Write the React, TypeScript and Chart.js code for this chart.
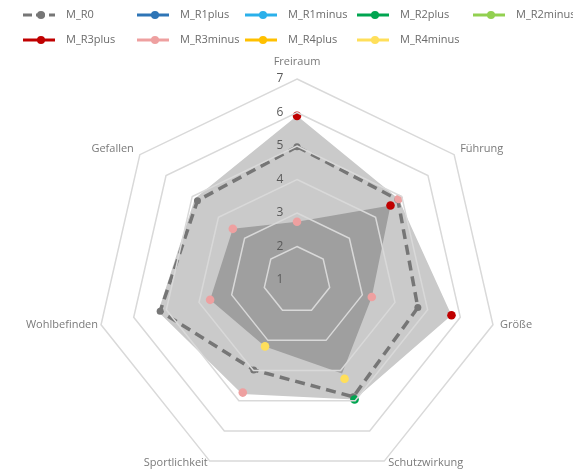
import React, { useEffect, useRef } from 'react';
import { Chart, registerables } from 'chart.js';

Chart.register(...registerables);

// ---------- data ----------
const categories = ['Freiraum', 'Führung', 'Größe', 'Schutzwirkung', 'Sportlichkeit', 'Wohlbefinden', 'Gefallen'];

const M_R0 = [4.98, 4.85, 4.7, 4.87, 3.98, 5.19, 4.8];
const M_R1plus: (number | null)[] = [null, null, null, null, null, null, null];
const M_R1minus: (number | null)[] = [null, null, null, null, null, null, null];
const M_R2plus: (number | null)[] = [null, null, null, 4.96, null, null, null];
const M_R2minus: (number | null)[] = [null, null, null, null, null, null, null];
const M_R3plus: (number | null)[] = [5.9, 4.57, 5.73, null, null, null, null];
const M_R3minus: (number | null)[] = [2.74, 4.88, 3.29, null, 4.73, 3.66, 3.45];
const M_R4plus: (number | null)[] = [null, null, null, null, null, null, null];
const M_R4minus: (number | null)[] = [null, null, null, 4.27, 3.2, null, null];

const envelopeMax = [5.9, 4.88, 5.73, 4.96, 4.78, 5.25, 4.9];
const envelopeMin = [2.74, 4.57, 3.29, 4.1, 3.2, 3.66, 3.45];

const scaleMin = 1;
const scaleMax = 7;
const scaleStep = 1;

// ---------- styles ----------
const seriesDefs = [
  { name: 'M_R0', data: M_R0, color: '#767676' },
  { name: 'M_R1plus', data: M_R1plus, color: '#2e75b6' },
  { name: 'M_R1minus', data: M_R1minus, color: '#2bb0ea' },
  { name: 'M_R2plus', data: M_R2plus, color: '#00a550' },
  { name: 'M_R2minus', data: M_R2minus, color: '#92d050' },
  { name: 'M_R3plus', data: M_R3plus, color: '#c00000' },
  { name: 'M_R3minus', data: M_R3minus, color: '#eea0a0' },
  { name: 'M_R4plus', data: M_R4plus, color: '#ffc000' },
  { name: 'M_R4minus', data: M_R4minus, color: '#ffdf5a' },
];

const legendCols = [23, 137, 245, 357, 473];
const legendRows = [15, 40];

const labelLayout = [
  { align: 'center', dx: 0, dy: -17 },
  { align: 'left', dx: 6, dy: -6 },
  { align: 'left', dx: 7, dy: 0 },
  { align: 'left', dx: 4, dy: 2 },
  { align: 'right', dx: -2, dy: 2 },
  { align: 'right', dx: -3, dy: 0 },
  { align: 'right', dx: -6, dy: -6 },
];

const overlayPlugin = {
  id: 'overlay',
  afterDraw(chart: any) {
    const ctx = chart.ctx as CanvasRenderingContext2D;
    const scale = chart.scales.r;
    ctx.save();

    // tick labels
    ctx.font = '12px "Open Sans"';
    ctx.fillStyle = '#595959';
    ctx.textAlign = 'center';
    ctx.textBaseline = 'middle';
    scale.ticks.forEach((t: any) => {
      const d = scale.getDistanceFromCenterForValue(t.value);
      ctx.fillText(String(t.value), scale.xCenter - 17, scale.yCenter - d);
    });

    // point labels
    ctx.font = '11px "Open Sans"';
    ctx.fillStyle = '#7a7a7a';
    categories.forEach((c, i) => {
      const p = scale.getPointPosition(i, scale.drawingArea);
      const l = labelLayout[i];
      ctx.textAlign = l.align as CanvasTextAlign;
      ctx.fillText(c, p.x + l.dx, p.y + l.dy);
    });

    // legend
    ctx.textAlign = 'left';
    ctx.font = '11px "Open Sans"';
    seriesDefs.forEach((s, i) => {
      const x = legendCols[i % 5];
      const y = legendRows[Math.floor(i / 5)];
      ctx.strokeStyle = s.color;
      ctx.lineWidth = 3;
      ctx.setLineDash(s.name === 'M_R0' ? [9, 4] : []);
      ctx.beginPath();
      ctx.moveTo(x, y);
      ctx.lineTo(x + 32, y);
      ctx.stroke();
      ctx.setLineDash([]);
      ctx.fillStyle = s.color;
      ctx.beginPath();
      ctx.arc(x + 18, y, 4, 0, Math.PI * 2);
      ctx.fill();
      ctx.fillStyle = '#6b6b6b';
      ctx.fillText(s.name, x + 43, y);
    });

    ctx.restore();
  },
};

export default function App() {
  const ref = useRef<HTMLCanvasElement>(null);

  useEffect(() => {
    if (!ref.current) return;
    const datasets: any[] = [
      {
        label: 'Max',
        data: envelopeMax,
        fill: true,
        backgroundColor: '#cacaca',
        borderColor: '#cacaca',
        borderWidth: 0,
        pointRadius: 0,
        order: 20,
      },
      {
        label: 'Min',
        data: envelopeMin,
        fill: true,
        backgroundColor: '#9f9f9f',
        borderColor: '#9f9f9f',
        borderWidth: 0,
        pointRadius: 0,
        order: 19,
      },
    ];
    seriesDefs.forEach((s, i) => {
      if (s.name === 'M_R0') {
        datasets.push({
          label: s.name,
          data: s.data,
          fill: false,
          borderColor: s.color,
          borderWidth: 3.5,
          borderDash: [10, 6],
          backgroundColor: s.color,
          pointRadius: 3.5,
          pointBackgroundColor: s.color,
          pointBorderWidth: 0,
          order: 10,
        });
      } else {
        datasets.push({
          label: s.name,
          data: s.data,
          fill: false,
          showLine: false,
          borderColor: s.color,
          backgroundColor: s.color,
          pointRadius: 4.3,
          pointBackgroundColor: s.color,
          pointBorderWidth: 0,
          order: i,
        });
      }
    });

    const chart = new Chart(ref.current, {
      type: 'radar',
      data: { labels: categories, datasets },
      options: {
        responsive: false,
        animation: false,
        events: [],
        layout: { padding: { left: 96, right: 75, top: 79, bottom: 9 } },
        plugins: {
          legend: { display: false },
          tooltip: { enabled: false },
          title: { display: false },
        },
        scales: {
          r: {
            min: scaleMin,
            max: scaleMax,
            ticks: { stepSize: scaleStep, display: false },
            grid: { color: '#d9d9d9', lineWidth: 1.5, z: 1 },
            angleLines: { display: false },
            pointLabels: { display: false },
          },
        },
      } as any,
      plugins: [overlayPlugin],
    });
    return () => chart.destroy();
  }, []);

  return (
    <div style={{ position: 'fixed', left: 0, top: 0, width: 573, height: 490, background: '#fff' }}>
      <canvas ref={ref} width={573} height={490} style={{ display: 'block' }} />
    </div>
  );
}
